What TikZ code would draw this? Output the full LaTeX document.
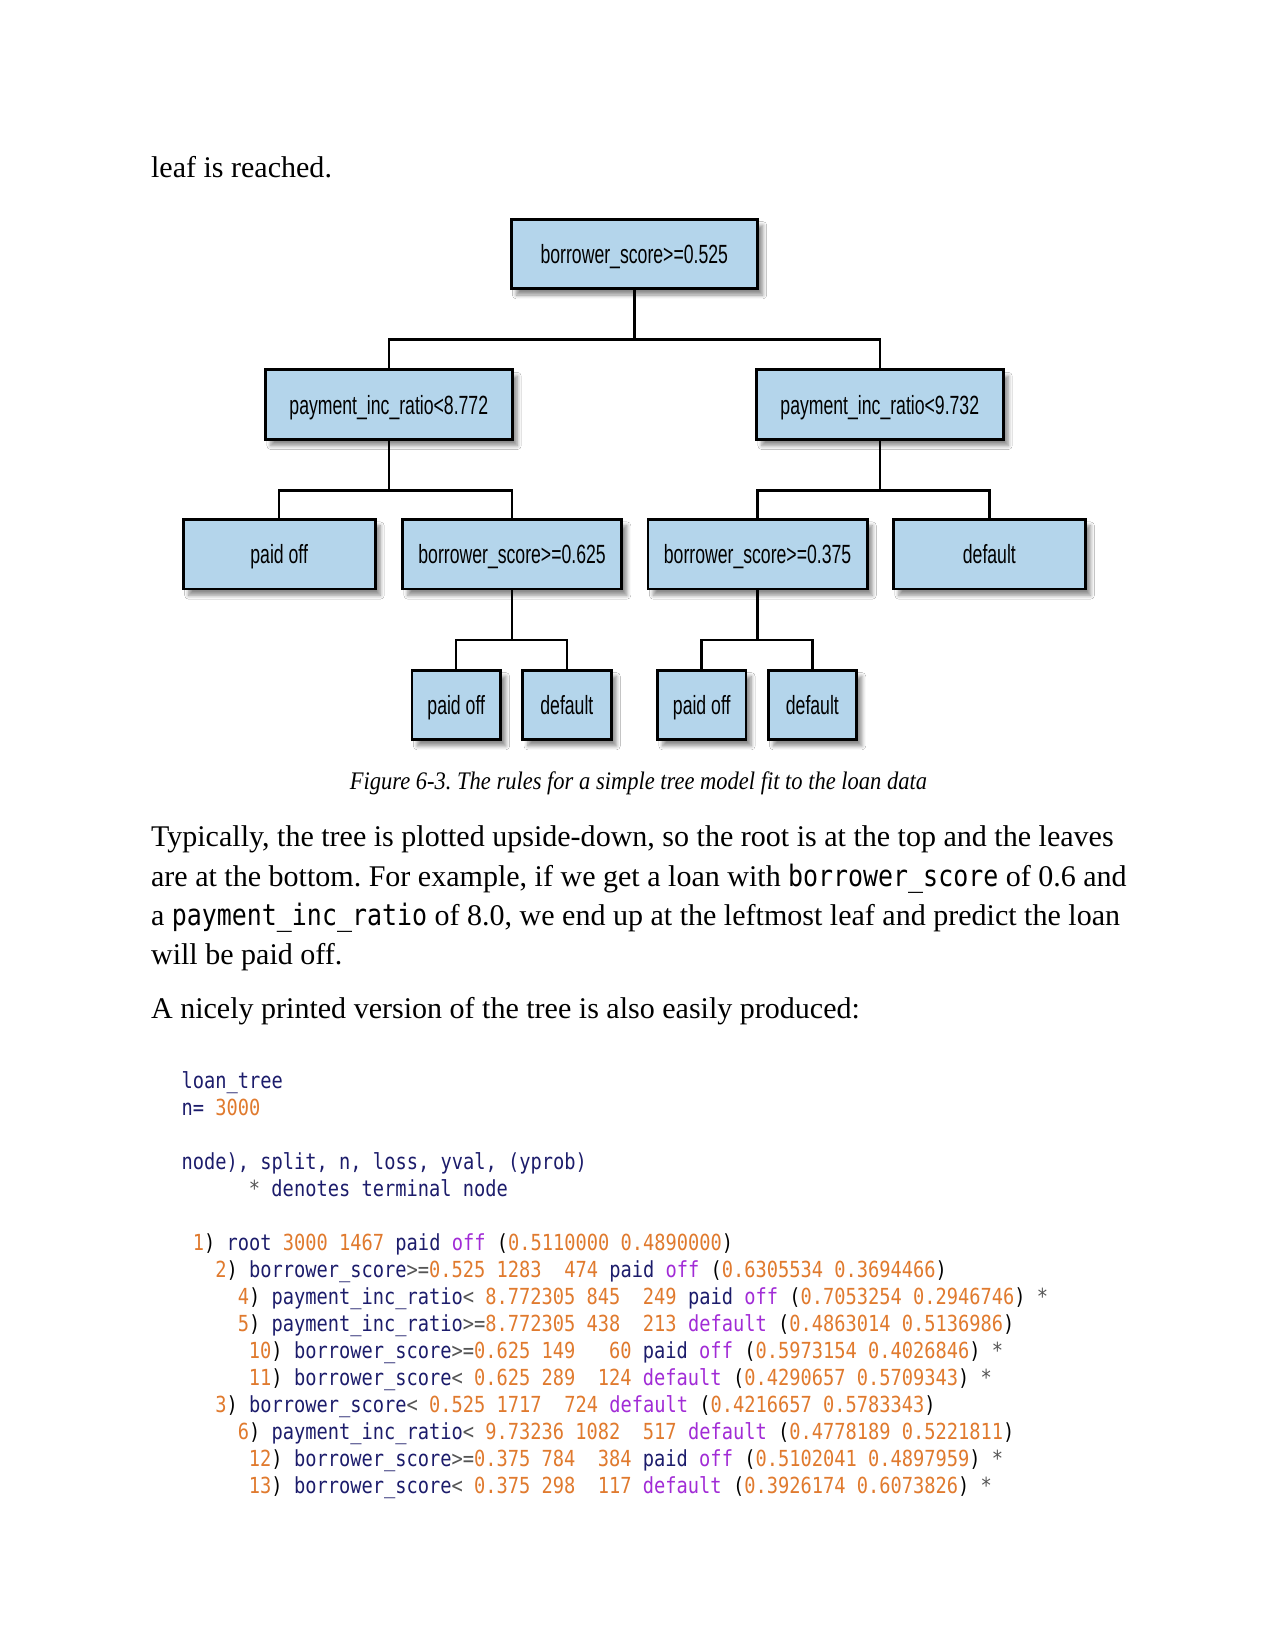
\documentclass[tikz,border=0pt]{standalone}
\usepackage{fontspec}
\setmainfont{Liberation Serif}
\newfontfamily\boxfont{Liberation Sans}[FakeStretch=0.67]
\newfontfamily\capfont{Liberation Serif}[FakeStretch=0.89]
\newfontfamily\codefont{DejaVu Sans Mono}[FakeStretch=0.845]
\usetikzlibrary{shadows.blur}
\definecolor{boxblue}{HTML}{B4D5EB}
\definecolor{rnavy}{HTML}{1C1C6B}
\definecolor{rorange}{HTML}{E07A2E}
\definecolor{rpurple}{HTML}{A12BD6}
\definecolor{rgray}{HTML}{555555}
\newcommand{\nv}[1]{\textcolor{rnavy}{#1}}
\newcommand{\og}[1]{\textcolor{rorange}{#1}}
\newcommand{\pp}[1]{\textcolor{rpurple}{#1}}
\newcommand{\gy}[1]{\textcolor{rgray}{#1}}
\newcommand{\ic}[1]{{\codefont\fontsize{14}{18}\selectfont #1}}
\frenchspacing
\begin{document}
\begin{tikzpicture}[x=0.5pt,y=-0.5pt,
    box/.style={draw=black,line width=1.4pt,fill=boxblue,minimum height=33pt,inner sep=0pt,
      text height=11.5pt,text depth=2.5pt,
      font=\boxfont\fontsize{12.5}{14}\selectfont,
      blur shadow={shadow xshift=2.5pt,shadow yshift=-3pt,shadow blur steps=6,shadow opacity=45}},
    link/.style={line width=1.2pt},
    txt/.style={anchor=base west,inner sep=0pt,font=\fontsize{14.25}{18}\selectfont},
    code/.style={anchor=base west,inner sep=0pt,font=\codefont\fontsize{10.5}{12.8}\selectfont}]
    \fill[white] (0,0) rectangle (1210,1566);
    \useasboundingbox (0,0) rectangle (1210,1566);

    \node[txt] (lead) at (143,168) {leaf is reached.};

    % the tree
    \node[box,minimum width=117pt] (root) at (602,241) {borrower\_score>=0.525};
    \node[box,minimum width=117pt] (pl) at (369,384) {payment\_inc\_ratio<8.772};
    \node[box,minimum width=117pt] (pr) at (835,384) {payment\_inc\_ratio<9.732};
    \node[box,minimum width=91pt] (lpaid) at (265,526) {paid off};
    \node[box,minimum width=104pt] (bsl) at (486,526) {borrower\_score>=0.625};
    \node[box,minimum width=104pt] (bsr) at (719,526) {borrower\_score>=0.375};
    \node[box,minimum width=91pt] (rdef) at (939,526) {default};
    \node[box,minimum width=42pt] (lpaidb) at (433,669) {paid off};
    \node[box,minimum width=42pt] (ldefb) at (538,669) {default};
    \node[box,minimum width=42pt] (rpaidb) at (666,669) {paid off};
    \node[box,minimum width=42pt] (rdefb) at (771,669) {default};

    \draw[link] (root.south) -- ++(0,47) -| (pl.north);
    \draw[link] (root.south) -- ++(0,47) -| (pr.north);
    \draw[link] (pl.south) -- ++(0,47) -| (lpaid.north);
    \draw[link] (pl.south) -- ++(0,47) -| (bsl.north);
    \draw[link] (pr.south) -- ++(0,47) -| (bsr.north);
    \draw[link] (pr.south) -- ++(0,47) -| (rdef.north);
    \draw[link] (bsl.south) -- ++(0,47) -| (lpaidb.north);
    \draw[link] (bsl.south) -- ++(0,47) -| (ldefb.north);
    \draw[link] (bsr.south) -- ++(0,47) -| (rpaidb.north);
    \draw[link] (bsr.south) -- ++(0,47) -| (rdefb.north);

    \node[anchor=base,inner sep=0pt,font=\capfont\itshape\fontsize{12}{14}\selectfont] (cap) at (606,749)
      {Figure 6-3. The rules for a simple tree model fit to the loan data};

    % text
    \node[txt] (p1) at (143,803) {Typically, the tree is plotted upside-down, so the root is at the top and the leaves};
    \node[txt] (p2) at (143,841) {are at the bottom. For example, if we get a loan with \ic{borrower\_score} of 0.6 and};
    \node[txt] (p3) at (143,878) {a \ic{payment\_inc\_ratio} of 8.0, we end up at the leftmost leaf and predict the loan};
    \node[txt] (p4) at (143,915) {will be paid off.};
    \node[txt] (p5) at (143,967) {A nicely printed version of the tree is also easily produced:};

    % printed tree
    \node[code] (c1) at (172,1033) {\nv{loan\_tree}};
    \node[code] (c2) at (172,1058.6) {\nv{n=} \og{3000}};
    \node[code] (c3) at (172,1109.8) {\nv{node), split, n, loss, yval, (yprob)}};
    \node[code] (c4) at ({172+6*10.65},1135.4) {\gy{*} \nv{denotes terminal node}};
    \node[code] (r1) at ({172+1*10.65},1186.6) {\og{1}) \nv{root} \og{3000 1467} \nv{paid} \pp{off} (\og{0.5110000 0.4890000})};
    \node[code] (r2) at ({172+3*10.65},1212.2) {\og{2}) \nv{borrower\_score}\gy{>=}\og{0.525 1283~~474} \nv{paid} \pp{off} (\og{0.6305534 0.3694466})};
    \node[code] (r4) at ({172+5*10.65},1237.8) {\og{4}) \nv{payment\_inc\_ratio}\gy{<} \og{8.772305 845~~249} \nv{paid} \pp{off} (\og{0.7053254 0.2946746}) \gy{*}};
    \node[code] (r5) at ({172+5*10.65},1263.4) {\og{5}) \nv{payment\_inc\_ratio}\gy{>=}\og{8.772305 438~~213} \pp{default} (\og{0.4863014 0.5136986})};
    \node[code] (r10) at ({172+6*10.65},1289) {\og{10}) \nv{borrower\_score}\gy{>=}\og{0.625 149~~~60} \nv{paid} \pp{off} (\og{0.5973154 0.4026846}) \gy{*}};
    \node[code] (r11) at ({172+6*10.65},1314.6) {\og{11}) \nv{borrower\_score}\gy{<} \og{0.625 289~~124} \pp{default} (\og{0.4290657 0.5709343}) \gy{*}};
    \node[code] (r3) at ({172+3*10.65},1340.2) {\og{3}) \nv{borrower\_score}\gy{<} \og{0.525 1717~~724} \pp{default} (\og{0.4216657 0.5783343})};
    \node[code] (r6) at ({172+5*10.65},1365.8) {\og{6}) \nv{payment\_inc\_ratio}\gy{<} \og{9.73236 1082~~517} \pp{default} (\og{0.4778189 0.5221811})};
    \node[code] (r12) at ({172+6*10.65},1391.4) {\og{12}) \nv{borrower\_score}\gy{>=}\og{0.375 784~~384} \nv{paid} \pp{off} (\og{0.5102041 0.4897959}) \gy{*}};
    \node[code] (r13) at ({172+6*10.65},1417) {\og{13}) \nv{borrower\_score}\gy{<} \og{0.375 298~~117} \pp{default} (\og{0.3926174 0.6073826}) \gy{*}};
\end{tikzpicture}
\end{document}
